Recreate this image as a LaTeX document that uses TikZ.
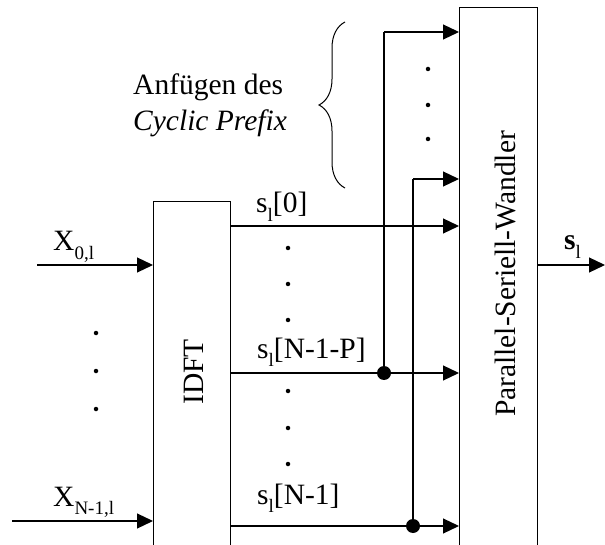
\documentclass[tikz,border=0pt]{standalone}
\usepackage{fontspec}
\setmainfont{Liberation Serif}
\usetikzlibrary{arrows.meta,decorations.pathreplacing}
\newcommand\lowsub[1]{\raisebox{-0.3em}{\fontsize{19}{20}\selectfont #1}}
\tikzset{
  conn/.style={line width=1.2pt,-{Triangle[length=16pt,width=15pt]}},
  wire/.style={line width=1.2pt},
  blockbox/.style={draw,line width=1.2pt,anchor=north west,inner sep=0pt,minimum width=77pt,minimum height=400pt},
  lbl/.style={inner sep=0pt,anchor=base west},
  dotmark/.style={circle,fill,inner sep=0pt,minimum size=4.5pt},
  junction/.style={circle,fill,inner sep=0pt,minimum size=14pt},
}
\begin{document}
\begin{tikzpicture}[x=1pt,y=-1pt,font=\fontsize{29.5}{35}\selectfont]
\useasboundingbox (0,0) rectangle (605,545);
\clip (0,0) rectangle (605,545);
% blocks
\node[blockbox] (idft) at (153,201) {};
\node[blockbox,minimum width=78pt,minimum height=600pt] (ps) at (459,7) {};
\node[rotate=90,anchor=base,inner sep=0pt] (idftl) at (203,372) {IDFT};
\node[rotate=90,anchor=base,inner sep=0pt] (psl) at (515,274) {Parallel-Seriell-Wandler};
% inputs
\coordinate (in0) at (37,265);
\coordinate (in1) at (12,521);
\draw[conn] (in0) -- (in0 -| idft.west);
\draw[conn] (in1) -- (in1 -| idft.west);
\node[lbl] (x0) at (53,251) {X\lowsub{0,l}};
\node[lbl] (x1) at (53,506) {X\lowsub{N-1,l}};
\foreach \y [count=\i] in {333,371,409} \node[dotmark] (ld\i) at (96,\y) {};
% outputs of IDFT
\coordinate (o0) at (230,226);
\coordinate (o1) at (230,373);
\coordinate (o2) at (230,526);
\draw[conn] (o0) -- (o0 -| ps.west);
\draw[conn] (o1) -- (o1 -| ps.west);
\draw[conn] (o2) -- (o2 -| ps.west);
\node[lbl] (s0) at (256,213) {s\lowsub{l}[0]};
\node[lbl] (s1) at (257,358) {s\lowsub{l}[N-1-P]};
\node[lbl] (s2) at (257,504) {s\lowsub{l}[N-1]};
\foreach \y [count=\i] in {248,284,320,391,428,464} \node[dotmark] (md\i) at (288,\y) {};
% cyclic prefix
\node[junction] (j1) at (384,373) {};
\node[junction] (j2) at (413,526) {};
\coordinate (c1) at (384,32);
\coordinate (c2) at (413,179);
\draw[wire] (j1.center) -- (c1);
\draw[conn] (c1) -- (c1 -| ps.west);
\draw[wire] (j2.center) -- (c2);
\draw[conn] (c2) -- (c2 -| ps.west);
\foreach \y [count=\i] in {69,105,139} \node[dotmark] (td\i) at (428,\y) {};
% brace
\coordinate (bb) at (345,188);
\coordinate (bt) at (345,22);
\draw[line width=1pt,decorate,decoration={brace,amplitude=26pt}] (bb) -- (bt);
\node[lbl] (cp1) at (133,95) {Anfügen des};
\node[lbl] (cp2) at (133,131) {\textit{Cyclic Prefix}};
% output
\coordinate (out) at (605,265);
\draw[conn] (out -| ps.east) -- (out);
\node[lbl] (sl) at (564,250) {\textbf{s}\lowsub{l}};
\end{tikzpicture}
\end{document}
